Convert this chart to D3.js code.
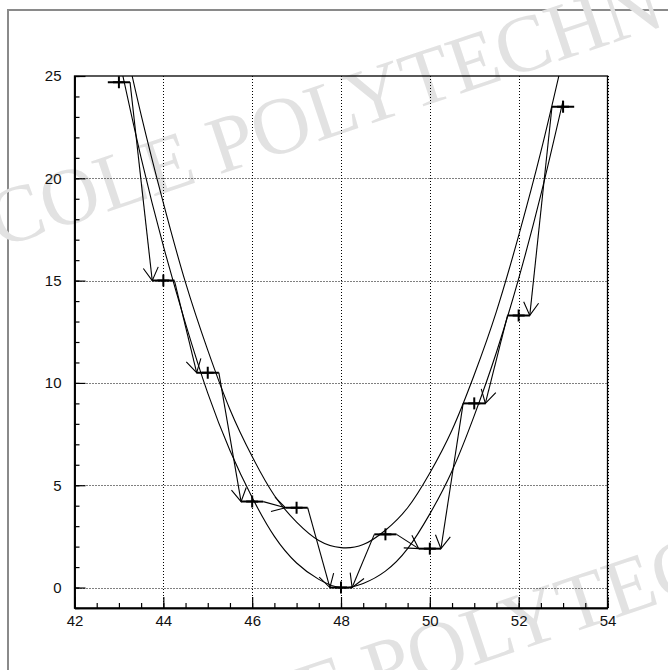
<!DOCTYPE html>
<html>
<head>
<meta charset="utf-8">
<script src="https://cdn.jsdelivr.net/npm/d3@7"></script>
<style>
  html, body { margin: 0; padding: 0; background: #fff; }
  svg { display: block; }
</style>
</head>
<body>
<svg id="chart" width="668" height="670"></svg>
<script>
// ---- data ----
const pointX = [43, 44, 45, 46, 47, 48, 49, 50, 51, 52, 53];
const pointY = [24.7, 15, 10.5, 4.2, 3.9, 0, 2.6, 1.9, 9, 13.3, 23.5];
const pointXErr = [0.25, 0.25, 0.25, 0.25, 0.25, 0.25, 0.25, 0.25, 0.25, 0.25, 0.25];

const curveX = [43, 43.5, 44, 44.5, 45, 45.5, 46, 46.5, 47, 47.5, 48, 48.5, 49, 49.5, 50, 50.5, 51, 51.5, 52, 52.5, 53];
const curveUpper = [27.9, 23.1, 18.8, 14.9, 11.6, 8.7, 6.4, 4.5, 3.2, 2.3, 1.95, 2.1, 2.8, 3.9, 5.6, 7.7, 10.4, 13.5, 17.2, 21.3, 25.9];
const curveLower = [25.9, 21.0, 16.7, 12.9, 9.5, 6.7, 4.4, 2.5, 1.2, 0.4, 0.0, 0.2, 0.8, 1.9, 3.6, 5.7, 8.4, 11.5, 15.1, 19.2, 23.8];

const xTicks = [42, 44, 46, 48, 50, 52, 54];
const yTicks = [0, 5, 10, 15, 20, 25];
const xMinorTicks = d3.range(42, 54.01, 0.5);
const yMinorTicks = d3.range(-1, 25.01, 1);
const watermark = "ECOLE POLYTECHNIQUE";

// ---- layout ----
const svg = d3.select("#chart");
const x = d3.scaleLinear().domain([42, 54]).range([74.5, 607.5]);
const y = d3.scaleLinear().domain([-1, 25]).range([608, 76]);

// canvas border (top / left)
svg.append("path").attr("d", "M8,670 L8,10 L668,10")
  .attr("fill", "none").attr("stroke", "#8a8a8a").attr("stroke-width", 2);

// watermark
const wm = svg.append("g");
[[-48, 264], [108, 788]].forEach(p => {
  wm.append("text")
    .attr("transform", `translate(${p[0]},${p[1]}) rotate(-18.5)`)
    .attr("fill", "#e2e2e2")
    .style("font-family", "'Liberation Serif', 'DejaVu Serif', 'Times New Roman', serif")
    .style("font-size", "81px")
    .text(watermark);
});

// clip for plot
svg.append("clipPath").attr("id", "frameClip")
  .append("rect").attr("x", x(42)).attr("y", y(25)).attr("width", x(54) - x(42)).attr("height", y(-1) - y(25));

// grid
const grid = svg.append("g").attr("stroke", "#000").attr("stroke-width", 1).attr("stroke-dasharray", "1,2");
grid.selectAll("line.gx").data(xTicks.filter(t => t > 42)).join("line")
  .attr("x1", d => Math.round(x(d)) + 0.5).attr("x2", d => Math.round(x(d)) + 0.5)
  .attr("y1", y(-1)).attr("y2", y(25));
grid.selectAll("line.gy").data(yTicks.filter(t => t < 25)).join("line")
  .attr("class", "gy")
  .attr("x1", x(42)).attr("x2", x(54))
  .attr("y1", d => Math.round(y(d)) + 0.5).attr("y2", d => Math.round(y(d)) + 0.5);

// curves
const plot = svg.append("g").attr("clip-path", "url(#frameClip)");
const line = d3.line().x(d => x(d[0])).y(d => y(d[1])).curve(d3.curveNatural);
[curveUpper, curveLower].forEach(vals => {
  plot.append("path").datum(curveX.map((cx, i) => [cx, vals[i]]))
    .attr("d", line).attr("fill", "none").attr("stroke", "#000").attr("stroke-width", 1.1);
});

// polyline with arrows between error-bar ends
for (let i = 0; i < pointX.length - 1; i++) {
  const a = [x(pointX[i] + pointXErr[i]), y(pointY[i])];
  const b = [x(pointX[i + 1] - pointXErr[i + 1]), y(pointY[i + 1])];
  plot.append("line").attr("x1", a[0]).attr("y1", a[1]).attr("x2", b[0]).attr("y2", b[1])
    .attr("stroke", "#000").attr("stroke-width", 1.1);
  const head = pointY[i] <= pointY[i + 1] ? a : b;
  const tail = head === a ? b : a;
  const dx = tail[0] - head[0], dy = tail[1] - head[1];
  const len = Math.hypot(dx, dy);
  const ux = dx / len, uy = dy / len;
  const L = 15, ang = Math.PI / 6;
  const w1 = [head[0] + L * (ux * Math.cos(ang) - uy * Math.sin(ang)), head[1] + L * (ux * Math.sin(ang) + uy * Math.cos(ang))];
  const w2 = [head[0] + L * (ux * Math.cos(-ang) - uy * Math.sin(-ang)), head[1] + L * (ux * Math.sin(-ang) + uy * Math.cos(-ang))];
  plot.append("path").attr("d", `M${w1[0]},${w1[1]} L${head[0]},${head[1]} L${w2[0]},${w2[1]}`)
    .attr("fill", "none").attr("stroke", "#000").attr("stroke-width", 1.1);
}

// error bars and + markers
const pts = plot.append("g").attr("stroke", "#000").attr("stroke-width", 2);
pointX.forEach((px, i) => {
  const cx = x(px), cy = y(pointY[i]);
  pts.append("line").attr("x1", x(px - pointXErr[i])).attr("x2", x(px + pointXErr[i]))
    .attr("y1", cy).attr("y2", cy);
  pts.append("line").attr("x1", cx).attr("x2", cx).attr("y1", cy - 6).attr("y2", cy + 6);
  pts.append("line").attr("x1", cx - 6).attr("x2", cx + 6).attr("y1", cy).attr("y2", cy);
});

// axes
svg.append("g").attr("transform", `translate(0,${y(-1)})`)
  .call(d3.axisBottom(x).tickValues(xTicks).tickSizeInner(-11).tickSizeOuter(0).tickPadding(7).tickFormat(d3.format("d")));
svg.append("g").attr("transform", `translate(0,${y(-1)})`)
  .call(d3.axisBottom(x).tickValues(xMinorTicks).tickSizeInner(-5).tickSizeOuter(0).tickFormat(""));
svg.append("g").attr("transform", `translate(${x(42)},0)`)
  .call(d3.axisLeft(y).tickValues(yTicks).tickSizeInner(-11).tickSizeOuter(0).tickPadding(13).tickFormat(d3.format("d")));
svg.append("g").attr("transform", `translate(${x(42)},0)`)
  .call(d3.axisLeft(y).tickValues(yMinorTicks).tickSizeInner(-5).tickSizeOuter(0).tickFormat(""));

svg.selectAll(".tick text").attr("font-size", 15).attr("fill", "#111")
  .style("font-family", "'Liberation Sans', Arial, Helvetica, sans-serif");
svg.selectAll(".domain").attr("stroke", "#000").attr("stroke-width", 1.6);
svg.selectAll(".tick line").attr("stroke", "#000").attr("stroke-width", 1.2);

// frame
svg.append("rect").attr("x", x(42)).attr("y", y(25)).attr("width", x(54) - x(42)).attr("height", y(-1) - y(25))
  .attr("fill", "none").attr("stroke", "#000").attr("stroke-width", 1.3);
</script>
</body>
</html>
